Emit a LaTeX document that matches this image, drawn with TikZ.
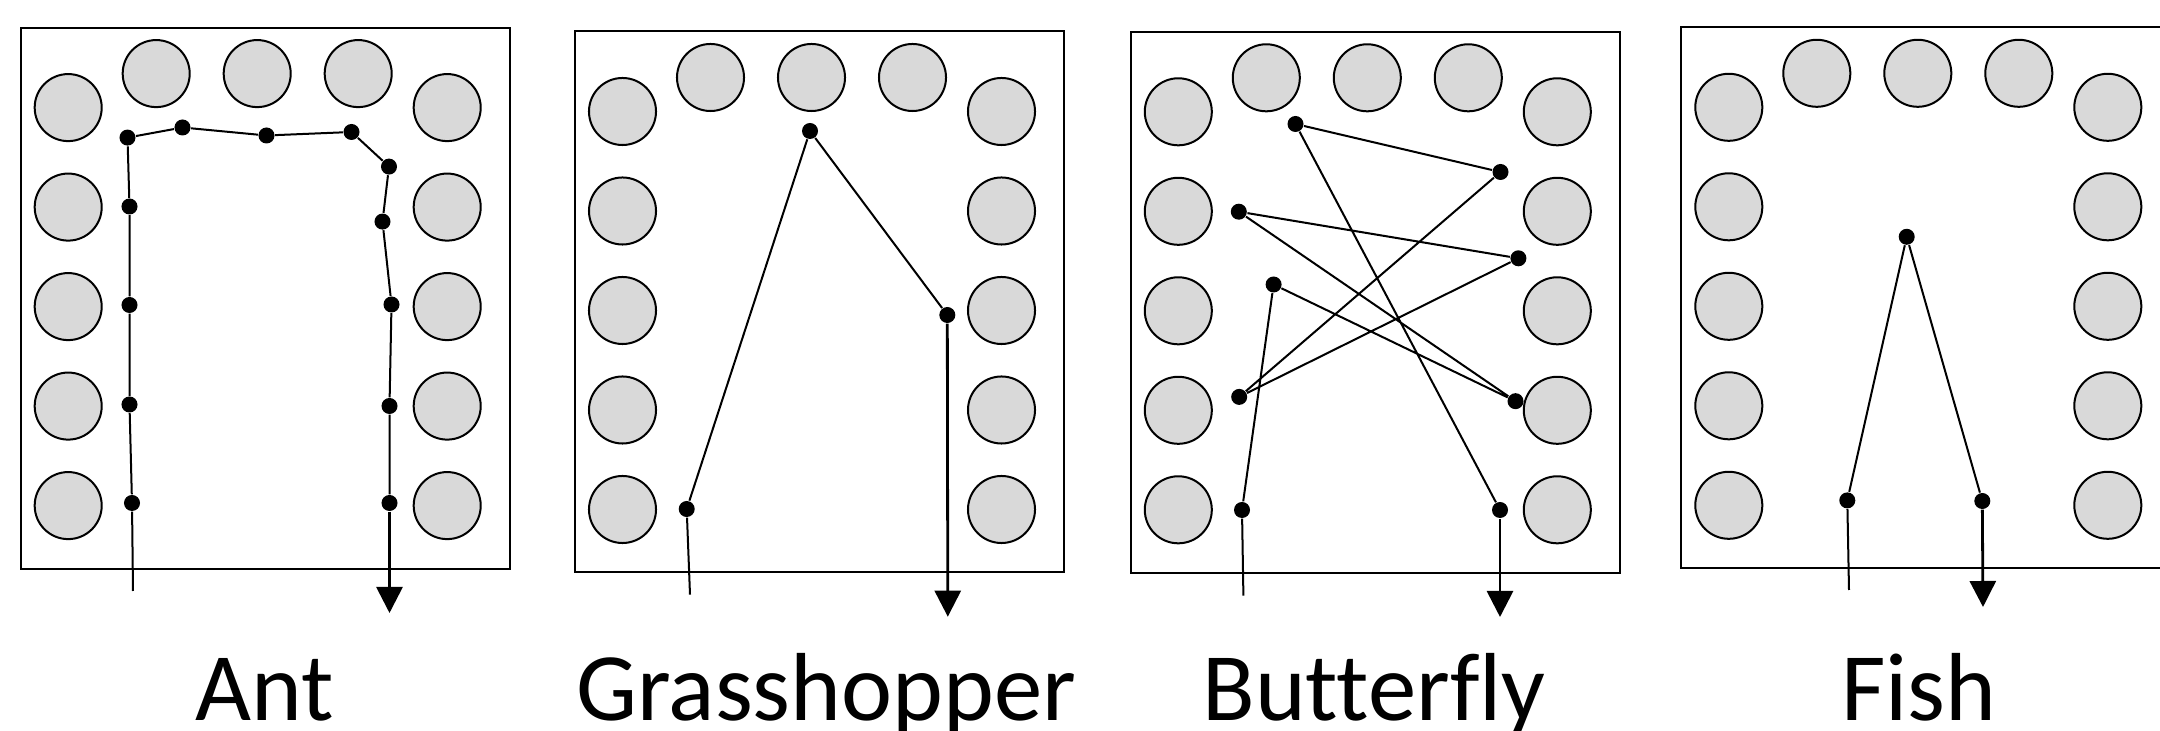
\documentclass[tikz,border=0pt]{standalone}
\usepackage{fontspec}
\setmainfont[Ligatures=NoCommon]{Carlito}
\usetikzlibrary{arrows.meta}
\definecolor{pebble}{RGB}{217,217,217}

\tikzset{
  pad/.style={circle, draw=black, fill=pebble, line width=0.02cm, minimum size=0.67cm, inner sep=0pt},
  dot/.style={circle, fill=black, minimum size=0.16cm, inner sep=0pt},
  track/.style={line width=0.02cm},
  exit/.style={line width=0.028cm, -{Triangle[width=0.26cm,length=0.26cm]}},
  insectlabel/.style={anchor=base, inner sep=0pt, font=\fontsize{27.5}{30}\selectfont},
}

\begin{document}
\begin{tikzpicture}[x=0.01cm, y=-0.01cm]
  \clip (0,0) rectangle (2160,731);

  % four boxes with their ring of pads
  \foreach \px/\py/\k in {20.7/27.6/1, 575/31.5/2, 1130.8/31.8/3, 1681.3/27.3/4} {
    \begin{scope}[shift={(\px,\py)}]
      \draw[line width=0.02cm] (0,0) rectangle (489,541);
      \foreach \cx/\cy [count=\i] in {47.5/80, 47.5/179.5, 47.5/279, 47.5/378.5, 47.5/478,
                                      135.5/46, 236.5/46, 337.5/46,
                                      426.5/80, 426.5/179.5, 426.5/279, 426.5/378.5, 426.5/478}
        \node[pad] (pad\k-\i) at (\cx,\cy) {};
    \end{scope}
  }

  % Ant
  \coordinate (a0)   at (133.0,591.0);
  \node[dot] (a1)    at (132.0,503.0) {};
  \node[dot] (a2)    at (129.5,404.5) {};
  \node[dot] (a3)    at (129.5,305.0) {};
  \node[dot] (a4)    at (129.5,206.5) {};
  \node[dot] (a5)    at (127.5,137.6) {};
  \node[dot] (a6)    at (182.5,127.5) {};
  \node[dot] (a7)    at (266.5,135.5) {};
  \node[dot] (a8)    at (351.5,132.0) {};
  \node[dot] (a9)    at (389.0,166.6) {};
  \node[dot] (a10)   at (382.5,221.6) {};
  \node[dot] (a11)   at (391.5,304.5) {};
  \node[dot] (a12)   at (389.5,406.0) {};
  \node[dot] (a13)   at (389.5,503.0) {};
  \coordinate (aend) at (389.5,613.0);
  \draw[track] (a0) -- (a1) -- (a2) -- (a3) -- (a4) -- (a5) -- (a6) -- (a7)
               -- (a8) -- (a9) -- (a10) -- (a11) -- (a12) -- (a13);
  \draw[exit] (a13) -- (aend);
  \node[insectlabel] (ant) at (265,720.5) {Ant};

  % Grasshopper
  \coordinate (g0)   at (690.0,594.7);
  \node[dot] (g1)    at (686.7,509.0) {};
  \node[dot] (g2)    at (810.0,131.0) {};
  \node[dot] (g3)    at (947.3,315.0) {};
  \coordinate (gend) at (947.8,616.7);
  \draw[track] (g0) -- (g1) -- (g2) -- (g3);
  \draw[exit] (g3) -- (gend);
  \node[insectlabel] (grasshopper) at (826,720.5) {Grasshopper};

  % Butterfly
  \coordinate (b0)   at (1243.4,595.7);
  \node[dot] (b1)    at (1242.0,510.0) {};
  \node[dot] (b2)    at (1273.6,284.5) {};
  \node[dot] (b3)    at (1515.5,401.2) {};
  \node[dot] (b4)    at (1238.8,211.7) {};
  \node[dot] (b5)    at (1518.4,258.3) {};
  \node[dot] (b6)    at (1239.2,396.9) {};
  \node[dot] (b7)    at (1500.5,172.0) {};
  \node[dot] (b8)    at (1295.5,124.0) {};
  \node[dot] (b9)    at (1500.0,510.0) {};
  \coordinate (bend) at (1500.0,617.0);
  \draw[track] (b0) -- (b1) -- (b2) -- (b3) -- (b4) -- (b5) -- (b6) -- (b7) -- (b8) -- (b9);
  \draw[exit] (b9) -- (bend);
  \node[insectlabel] (butterfly) at (1374,720.5) {Butterfly};

  % Fish
  \coordinate (f0)   at (1849.0,590.0);
  \node[dot] (f1)    at (1847.3,500.4) {};
  \node[dot] (f2)    at (1906.7,236.8) {};
  \node[dot] (f3)    at (1982.3,501.0) {};
  \coordinate (fend) at (1983.0,607.0);
  \draw[track] (f0) -- (f1) -- (f2) -- (f3);
  \draw[exit] (f3) -- (fend);
  \node[insectlabel] (fish) at (1919,720.5) {Fish};
\end{tikzpicture}
\end{document}
